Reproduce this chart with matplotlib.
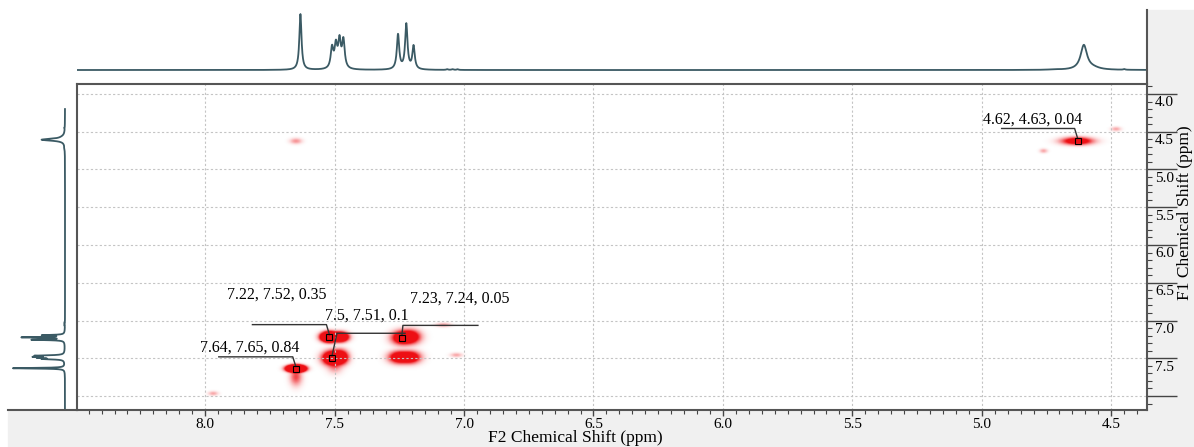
import numpy as np
import matplotlib
matplotlib.use("Agg")
import matplotlib.pyplot as plt
from matplotlib.patches import Rectangle
from matplotlib.ticker import MultipleLocator
from matplotlib.transforms import IdentityTransform, ScaledTranslation

plt.rcParams["font.family"] = ["Liberation Serif", "DejaVu Serif"]

# ---- 1D proton spectrum (projection): line centre (ppm), height, half width (ppm)
line_ppm = [7.632, 7.510, 7.495, 7.481, 7.466, 7.255, 7.223, 7.195,
            7.065, 7.045, 7.025, 4.720, 4.606, 4.570, 4.450]
line_height = [0.98, 0.36, 0.39, 0.47, 0.49, 0.61, 0.79, 0.405,
               0.012, 0.012, 0.012, 0.008, 0.43, 0.03, 0.012]
line_width = [0.005, 0.006, 0.006, 0.006, 0.006, 0.0055, 0.0055, 0.0055,
              0.004, 0.004, 0.004, 0.02, 0.015, 0.03, 0.004]

# ---- 2D cross peaks: F2 (ppm), F1 (ppm), intensity, widths (ppm)
peak_f2 = [7.65, 7.52, 7.48, 7.51, 7.48, 7.24, 7.21, 7.25, 7.21, 4.63,
           7.65, 4.76, 4.48, 7.03, 7.08, 7.97, 7.65, 7.50]
peak_f1 = [7.64, 7.22, 7.22, 7.50, 7.49, 7.23, 7.22, 7.49, 7.49, 4.62,
           4.62, 4.75, 4.46, 7.46, 7.06, 7.97, 7.75, 7.60]
peak_int = [0.84, 0.35, 0.15, 0.10, 0.08, 0.05, 0.05, 0.05, 0.05, 0.04,
            0.004, 0.003, 0.003, 0.003, 0.003, 0.003, 0.010, 0.006]
peak_wx = [0.015, 0.015, 0.015, 0.018, 0.015, 0.02, 0.02, 0.02, 0.02, 0.03,
           0.012, 0.008, 0.01, 0.012, 0.015, 0.01, 0.012, 0.015]
peak_wy = [0.02, 0.03, 0.03, 0.045, 0.045, 0.045, 0.045, 0.04, 0.04, 0.025,
           0.02, 0.015, 0.015, 0.015, 0.015, 0.015, 0.06, 0.05]

# ---- picked peaks (F1, F2, intensity)
pick_f1 = [7.64, 7.22, 7.5, 7.23, 4.62]
pick_f2 = [7.65, 7.52, 7.51, 7.24, 4.63]
pick_z = [0.84, 0.35, 0.1, 0.05, 0.04]

x_ticks = [8.0, 7.5, 7.0, 6.5, 6.0, 5.5, 5.0, 4.5]
y_ticks = [4.0, 4.5, 5.0, 5.5, 6.0, 6.5, 7.0, 7.5]
y_grid = y_ticks + [8.0]

F2_LIM = (8.495, 4.362)
F1_LIM = (8.185, 3.868)

# label placement (pixel offsets from each picked peak)
label_text_off = [(-46, 21), (-53, 42), (35, 43), (58, 39), (-45, 21)]
label_line_x = [(-77, -3), (-77, -3), (73, 5), (76, 1), (-76, -3)]
label_line_y = [12, 12.5, 25, 12.5, 12.3]

W, H = 1194, 447
fig = plt.figure(figsize=(W / 100, H / 100), dpi=100)
fig.patch.set_facecolor("white")


def box(x0, y0, x1, y1):
    return [x0 / W, 1 - y1 / H, (x1 - x0) / W, (y1 - y0) / H]


GRAY = "#f0f0f0"
fig.patches.append(Rectangle((1147 / W, 0), (W - 1147) / W, 1 - 10 / H,
                             transform=fig.transFigure, color=GRAY, zorder=-5))
fig.patches.append(Rectangle((8 / W, 0), (1147 - 8) / W, (H - 410) / H,
                             transform=fig.transFigure, color=GRAY, zorder=-5))

ax = fig.add_axes(box(77, 84, 1147, 410))
axt = fig.add_axes(box(77, 10, 1147, 84))
axl = fig.add_axes(box(8, 84, 77, 410))

SPEC = "#3b5a64"
EDGE = "#555555"

# 1D spectrum
ppm = np.linspace(8.7, 4.2, 6000)
spec = np.zeros_like(ppm)
for c, h, g in zip(line_ppm, line_height, line_width):
    spec += h * g ** 2 / ((ppm - c) ** 2 + g ** 2)

axt.plot(ppm, spec, color=SPEC, lw=1.3)
axt.set_xlim(F2_LIM)
axt.set_ylim(-0.245, 1.053)
axt.set_xticks([])
axt.set_yticks([])
for s in ("top", "left", "bottom"):
    axt.spines[s].set_visible(False)
axt.spines["right"].set_color(EDGE)
axt.spines["right"].set_linewidth(1.5)
axt.patch.set_alpha(0)

axl.plot(spec, ppm, color=SPEC, lw=1.3)
axl.set_ylim(F1_LIM)
axl.set_xlim(1.075, -0.226)
axl.set_xticks([])
axl.set_yticks([])
for s in ("top", "left", "right"):
    axl.spines[s].set_visible(False)
axl.spines["bottom"].set_color(EDGE)
axl.spines["bottom"].set_linewidth(1.5)
axl.patch.set_alpha(0)

# 2D map
xs = np.linspace(F2_LIM[0], F2_LIM[1], 1300)
ys = np.linspace(F1_LIM[1], F1_LIM[0], 420)
X, Y = np.meshgrid(xs, ys)
Z = np.zeros_like(X)
for c2, c1, a, wx, wy in zip(peak_f2, peak_f1, peak_int, peak_wx, peak_wy):
    Z += a * np.exp(-((X - c2) ** 2 / (2 * wx ** 2) + (Y - c1) ** 2 / (2 * wy ** 2)))
rgba = np.zeros(Z.shape + (4,))
rgba[..., 0] = 0.93
rgba[..., 1] = 0.06
rgba[..., 2] = 0.08
rgba[..., 3] = np.clip(Z / 0.015, 0, 1) ** 0.6
ax.imshow(rgba, extent=(F2_LIM[0], F2_LIM[1], F1_LIM[0], F1_LIM[1]),
          origin="upper", aspect="auto", interpolation="bilinear", zorder=0)

ax.set_xlim(F2_LIM)
ax.set_ylim(F1_LIM)
ax.set_xticks(x_ticks)
ax.set_xticklabels([f"{v:.1f}" for v in x_ticks])
ax.xaxis.set_minor_locator(MultipleLocator(0.05))
ax.set_yticks(y_grid)
ax.yaxis.set_minor_locator(MultipleLocator(0.1))
ax.yaxis.tick_right()
ax.tick_params(axis="x", which="major", direction="out", length=4, width=1,
               color="#444444", labelsize=11, pad=2)
ax.tick_params(axis="x", which="minor", direction="out", length=3, width=0.8,
               color="#444444")
ax.tick_params(axis="y", which="major", direction="out", length=21.6, width=1,
               color="#444444", labelright=False, labelleft=False)
ax.tick_params(axis="y", which="minor", direction="out", length=3.6, width=0.8,
               color="#444444")
ax.grid(True, which="major", color="#c4c4c4", linestyle=(0, (2, 2)), linewidth=0.8)
for s in ax.spines.values():
    s.set_color(EDGE)
    s.set_linewidth(1.5)

for v in y_ticks:
    ax.annotate(f"{v:.1f}", xy=(1, v), xycoords=ax.get_yaxis_transform(),
                xytext=(8, -9), textcoords="offset pixels", ha="left", va="center",
                fontsize=11, annotation_clip=False)

# picked peaks with leader lines
ax.plot(pick_f2, pick_f1, "s", mfc="none", mec="black", ms=3.8, mew=0.8, zorder=5)
for f1, f2, z, toff, lx, ly in zip(pick_f1, pick_f2, pick_z, label_text_off,
                                    label_line_x, label_line_y):
    anchor = IdentityTransform() + ScaledTranslation(f2, f1, ax.transData)
    ax.plot([lx[0], lx[1], 0], [ly, ly, 2.5], color="#333333", lw=1,
            transform=anchor, clip_on=False, zorder=4)
    ax.annotate(f"{f1:g}, {f2:g}, {z:g}", xy=(f2, f1), xytext=toff,
                textcoords="offset pixels", ha="center", va="center",
                fontsize=11.5, zorder=6)

fig.text(575 / W, 1 - 438 / H, "F2 Chemical Shift (ppm)", ha="center", va="center",
         fontsize=12.5)
fig.text(1185 / W, 1 - 213 / H, "F1 Chemical Shift (ppm)", ha="center", va="center",
         rotation=90, fontsize=12.5)

fig.savefig("out.png", dpi=100, facecolor=fig.get_facecolor())
